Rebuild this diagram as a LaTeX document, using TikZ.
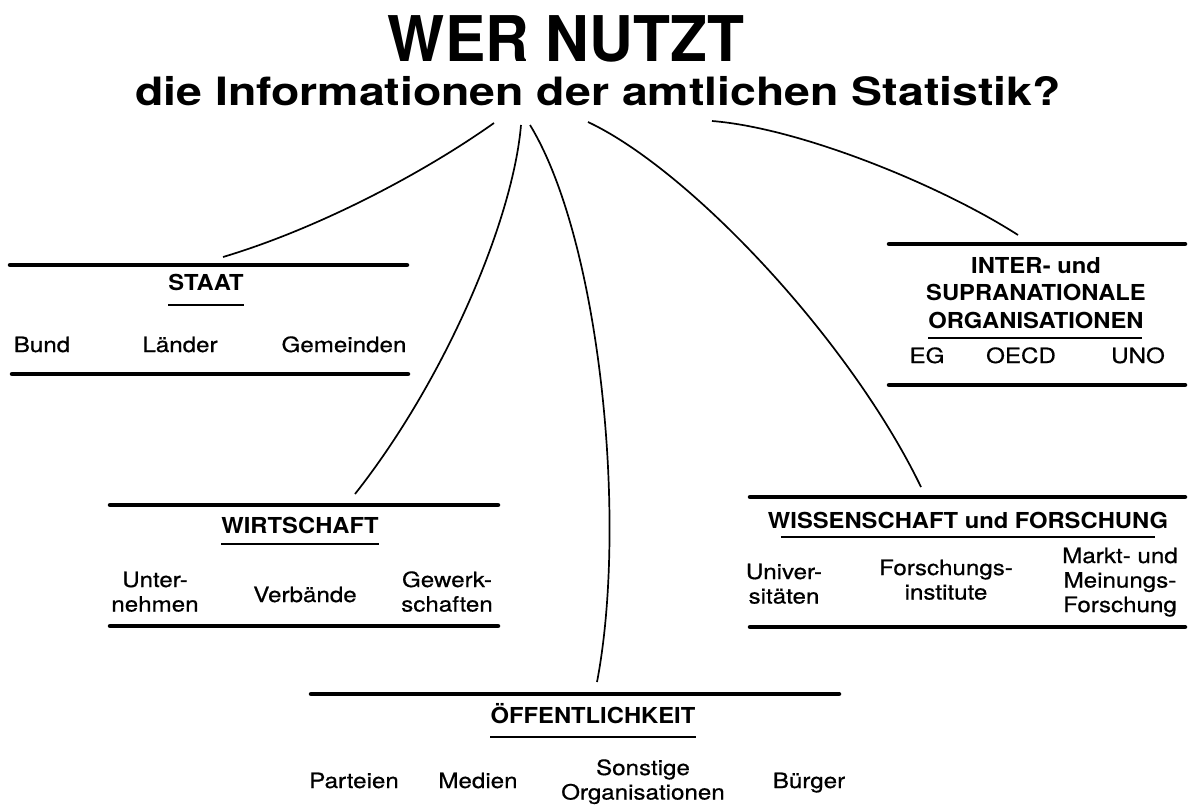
\documentclass[tikz,border=0pt]{standalone}
\usepackage{fontspec}
\setmainfont{TeX Gyre Heros}
\newfontfamily\itemfont[FakeStretch=1.15,FakeBold=0.6]{TeX Gyre Heros}
\newfontfamily\headfont[FakeStretch=1.08]{TeX Gyre Heros}
\newfontfamily\titlefont[FakeStretch=0.96]{TeX Gyre Heros}
\newfontfamily\subfont[FakeStretch=1.19]{TeX Gyre Heros}
\newcommand\ml[1]{\begin{tabular}[t]{@{}c@{}}#1\end{tabular}}
\tikzset{
  bar/.style={line width=4.5pt, line cap=round},
  link/.style={line width=1.7pt},
  uline/.style={line width=1.2pt},
  itm/.style={font=\itemfont\fontsize{21}{24.5}\selectfont, inner sep=0pt, anchor=base},
  hd/.style={font=\headfont\bfseries\fontsize{22}{27.5}\selectfont, inner sep=0pt, anchor=base},
}
\begin{document}
\begin{tikzpicture}[x=1pt,y=-1pt]
\useasboundingbox[fill=white] (0,0) rectangle (1200,808);

% title
\node[font=\titlefont\bfseries\fontsize{63}{70}\selectfont, inner sep=0pt, anchor=base] (title) at (566,62) {WER NUTZT};
\node[font=\subfont\bfseries\fontsize{39}{44}\selectfont, inner sep=0pt, anchor=base] (sub) at (598,106) {die Informationen der amtlichen Statistik?};

% curve start points below the subtitle
\coordinate (s1) at (494,123);
\coordinate (s2) at (521,125);
\coordinate (s3) at (530,125);
\coordinate (s4) at (588,122);
\coordinate (s5) at (712,121);

% ---------- STAAT
\draw[bar] (10,265) -- (407,265);
\coordinate (e1) at (223,257);
\node[hd] (staat) at (206,290) {STAAT};
\draw[uline] ([yshift=-15pt]staat.base west) -- ([yshift=-15pt]staat.base east);
\node[itm] (bund) at (42,352) {Bund};
\node[itm] (laender) at (180,352) {Länder};
\node[itm] (gemeinden) at (344,352) {Gemeinden};
\draw[bar] (12,374) -- (408,374);

% ---------- INTER
\draw[bar] (889,244) -- (1185,244);
\coordinate (e5) at (1018,235);
\node[hd] (inter) at (1036,273) {\ml{INTER- und\\SUPRANATIONALE\\ORGANISATIONEN}};
\draw[uline] (928,338) -- (1142,338);
\node[itm] (eg) at (927,363) {EG};
\node[itm] (oecd) at (1021,363) {OECD};
\node[itm] (uno) at (1138,363) {UNO};
\draw[bar] (889,385) -- (1185,385);

% ---------- WIRTSCHAFT
\draw[bar] (110,505) -- (498,505);
\coordinate (e2) at (355,494);
\node[hd] (wirt) at (300,533) {WIRTSCHAFT};
\draw[uline] ([yshift=-11pt]wirt.base west) -- ([yshift=-11pt]wirt.base east);
\node[itm] (unter) at (155,587) {\ml{Unter-\\nehmen}};
\node[itm] (verb) at (305,602) {Verbände};
\node[itm] (gew) at (447,587) {\ml{Gewerk-\\schaften}};
\draw[bar] (110,626) -- (498,626);

% ---------- WISSENSCHAFT
\draw[bar] (750,497) -- (1185,497);
\coordinate (e4) at (921,487);
\node[hd] (wiss) at (968,528) {WISSENSCHAFT und FORSCHUNG};
\draw[uline] ([yshift=-9pt,xshift=13pt]wiss.base west) -- ([yshift=-9pt,xshift=-13pt]wiss.base east);
\node[itm] (uni) at (784,579) {\ml{Univer-\\sitäten}};
\node[itm] (finst) at (946,575) {\ml{Forschungs-\\institute}};
\node[itm] (markt) at (1120,563) {\ml{Markt- und\\Meinungs-\\Forschung}};
\draw[bar] (750,627) -- (1185,627);

% ---------- OEFFENTLICHKEIT
\draw[bar] (311,694) -- (839,694);
\coordinate (e3) at (597,682);
\node[hd] (oeff) at (593,723) {ÖFFENTLICHKEIT};
\draw[uline] ([yshift=-14pt]oeff.base west) -- ([yshift=-14pt]oeff.base east);
\node[itm] (parteien) at (354,788) {Parteien};
\node[itm] (medien) at (478,788) {Medien};
\node[itm] (sonst) at (643,775) {\ml{Sonstige\\Organisationen}};
\node[itm] (buerger) at (809,788) {Bürger};

% ---------- connectors
\draw[link] (s1) .. controls (425,172) and (320,228) .. (e1);
\draw[link] (s2) .. controls (513,220) and (445,380) .. (e2);
\draw[link] (s3) .. controls (600,240) and (628,520) .. (e3);
\draw[link] (s4) .. controls (690,170) and (850,340) .. (e4);
\draw[link] (s5) .. controls (800,128) and (940,185) .. (e5);
\end{tikzpicture}
\end{document}
